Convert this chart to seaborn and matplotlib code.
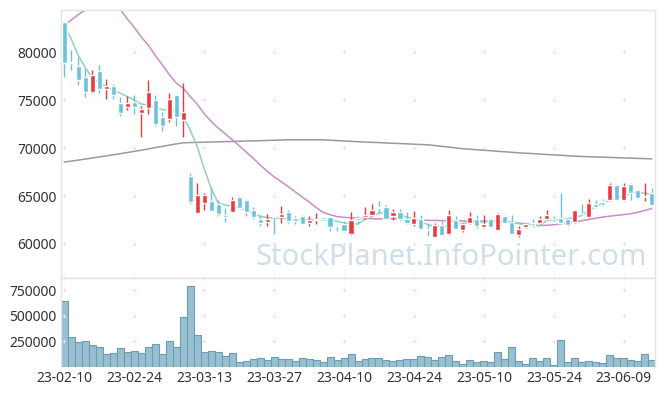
import numpy as np
import pandas as pd
import matplotlib
matplotlib.use("Agg")
import matplotlib.pyplot as plt
import seaborn as sns

# trading days (KRX holidays skipped)
HOLIDAYS = ["2023-03-01", "2023-05-01", "2023-05-05", "2023-05-29", "2023-06-06"]
dates = pd.bdate_range("2023-02-10", "2023-06-15", freq="C", holidays=HOLIDAYS)

opens = [83150, 79000, 78550, 77450, 75800, 78050, 76200, 76500, 74750, 74250,
         74850, 73700, 74150, 75050, 73250, 73000, 75500, 72900, 67100, 63250,
         64250, 64500, 64200, 63050, 63300, 64850, 64600, 63550, 62550, 62250,
         62850, 62800, 63350, 62700, 62950, 62150, 62450, 62800, 62800, 62000,
         62100, 61050, 62700, 62800, 63050, 63850, 63900, 62900, 63350, 62550,
         62100, 62550, 61500, 60700, 62000, 61000, 62450, 61500, 62150, 62600,
         61750, 62650, 61500, 62900, 62300, 60950, 61750, 62150, 62200, 62650,
         62650, 62750, 62550, 62300, 63150, 62800, 64200, 64500, 64550, 66100,
         64550, 66300, 65650, 64850, 65350]
highs = [83150, 80250, 79500, 78250, 78100, 78650, 77200, 76650, 75300, 75400,
         75500, 74400, 77100, 75500, 73800, 75750, 75500, 76750, 67400, 66400,
         65350, 65900, 64600, 63750, 64850, 64950, 64600, 63900, 63050, 63150,
         62850, 64000, 63550, 62900, 63000, 62900, 63250, 62850, 62850, 62100,
         62350, 63350, 62900, 63900, 64150, 64500, 64050, 63650, 63650, 63300,
         63400, 63000, 62200, 62200, 62400, 63550, 62900, 62200, 63350, 63050,
         63000, 62700, 63200, 63050, 63050, 61850, 62100, 62650, 62950, 63500,
         62950, 65300, 62600, 63500, 64200, 64650, 64600, 64700, 66350, 66100,
         66400, 66350, 65700, 66400, 65850]
lows = [77450, 78100, 76550, 75300, 75700, 75750, 75100, 75100, 73300, 74000,
        73550, 71200, 73550, 72250, 71750, 72750, 72250, 71150, 64200, 63250,
        63500, 63400, 62900, 62250, 63300, 63750, 62900, 62600, 61900, 61900,
        61050, 62200, 62200, 62100, 61950, 61850, 62100, 62500, 61300, 61300,
        61200, 60950, 62100, 62650, 62950, 63250, 62500, 62450, 62350, 62100,
        61900, 61500, 60800, 60700, 60900, 60950, 61550, 61200, 62100, 61700,
        61650, 61650, 61500, 62150, 61000, 60750, 61650, 61900, 62100, 62550,
        62350, 62100, 61850, 62200, 63100, 62700, 63750, 64100, 64500, 64450,
        64450, 64550, 64700, 64500, 64000]
closes = [78900, 78900, 77050, 75800, 77650, 76200, 76500, 75500, 73700, 74700,
          74250, 74100, 75850, 72550, 72250, 75150, 73250, 73750, 64350, 65150,
          65150, 63400, 63100, 62800, 64600, 63800, 63300, 62800, 62200, 62550,
          62800, 63100, 62400, 62350, 62100, 62500, 62650, 62550, 61750, 61850,
          61300, 62450, 62450, 63050, 63550, 63750, 62600, 63350, 62550, 62200,
          62700, 61600, 61450, 62000, 60950, 63050, 61600, 62100, 62800, 61850,
          62100, 61750, 63150, 62200, 61050, 61600, 62100, 62000, 62550, 63050,
          62550, 62200, 61950, 63500, 63100, 64300, 63850, 64400, 66100, 64550,
          66000, 65300, 64800, 65050, 64100]
volumes = [649000, 293500, 244600, 257600, 215200, 195700, 127200, 137000, 185900, 146700,
           159800, 140200, 195700, 225000, 127200, 257600, 195700, 489000, 795700, 313000,
           150000, 159800, 146700, 107600, 137000, 48900, 62000, 78300, 88000, 71700,
           97800, 78300, 78300, 58700, 88000, 78300, 68500, 48900, 97800, 68500,
           88000, 127200, 58700, 78300, 88000, 88000, 71700, 58700, 68500, 78300,
           78300, 107600, 97800, 68500, 97800, 117400, 58700, 29300, 68500, 48900,
           58700, 48900, 146700, 78300, 195700, 58700, 29300, 88000, 58700, 88000,
           19600, 264100, 48900, 88000, 48900, 58700, 48900, 39100, 117400, 88000,
           88000, 68500, 58700, 127200, 68500]
ma5 = [82770, 81400, 79700, 78400, 77350, 76850, 76420, 76050, 75730, 75380,
       75030, 74600, 74480, 74300, 74000, 73950, 73850, 73290, 71900, 70200,
       67900, 65800, 64300, 64050, 63920, 63750, 63570, 63200, 62880, 62750,
       62710, 62710, 62600, 62530, 62530, 62530, 62530, 62530, 62500, 62350,
       62190, 62120, 62080, 62550, 62900, 63230, 63300, 63200, 63050, 62800,
       62600, 62300, 62010, 61850, 61830, 61880, 61950, 62150, 62220, 62250,
       62300, 62360, 62360, 62360, 62300, 62110, 62000, 61910, 61910, 62450,
       62530, 62530, 62650, 62800, 62950, 63500, 63900, 64270, 64600, 64780,
       65000, 65310, 65370, 65300, 65130]
ma20 = [82770, 83350, 83900, 84400, 84700, 84900, 85000, 84900, 84500, 83500,
        82600, 81600, 80750, 79700, 78700, 77700, 76800, 76250, 75400, 74600,
        73600, 72800, 72100, 71500, 70900, 70250, 69600, 68950, 68250, 67600,
        67000, 66500, 66000, 65450, 64900, 64400, 63800, 63300, 63050, 62850,
        62780, 62720, 62680, 62650, 62630, 62620, 62620, 62620, 62600, 62530,
        62500, 62480, 62460, 62450, 62440, 62430, 62420, 62400, 62400, 62390,
        62380, 62370, 62360, 62300, 62240, 62170, 62110, 62000, 61920, 61950,
        62000, 62100, 62190, 62300, 62430, 62560, 62690, 62810, 62900, 62980,
        63060, 63150, 63300, 63500, 63700]
ma120 = [68540, 68640, 68740, 68850, 68960, 69070, 69180, 69300, 69410, 69530,
         69650, 69780, 69910, 70040, 70170, 70300, 70430, 70550, 70570, 70590,
         70610, 70630, 70650, 70670, 70690, 70710, 70730, 70750, 70770, 70790,
         70820, 70840, 70860, 70860, 70860, 70860, 70860, 70860, 70820, 70780,
         70740, 70700, 70660, 70630, 70600, 70570, 70530, 70500, 70470, 70440,
         70400, 70370, 70340, 70260, 70180, 70100, 70010, 69930, 69880, 69820,
         69770, 69720, 69660, 69610, 69560, 69500, 69460, 69420, 69370, 69330,
         69290, 69250, 69200, 69160, 69120, 69100, 69070, 69050, 69020, 69000,
         68970, 68950, 68920, 68900, 68870]

price_ticks = [60000, 65000, 70000, 75000, 80000]
vol_ticks = [250000, 500000, 750000]

df = pd.DataFrame({"day": np.arange(len(dates)), "open": opens, "high": highs,
                   "low": lows, "close": closes, "volume": volumes,
                   "ma5": ma5, "ma20": ma20, "ma120": ma120})

sns.set_style("white")
plt.rcParams["font.family"] = ["Noto Sans", "DejaVu Sans"]

UP = "#ea3a3e"
DOWN = "#6cc2da"
GRID = "#e2e2e2"
SPINE = "#e4e4e4"

fig = plt.figure(figsize=(6.65, 3.96), dpi=100)
ax = fig.add_axes([0.0917, 0.298, 0.8933, 0.6768])
axv = fig.add_axes([0.0917, 0.0732, 0.8933, 0.2248], sharex=ax)

# watermark
ax.text(0.657, 0.078, "StockPlanet.InfoPointer.com", transform=ax.transAxes,
        ha="center", va="center", fontsize=21, color="#cfdee8", zorder=0)

# moving averages
sns.lineplot(data=df, x="day", y="ma120", ax=ax, color="#9a9a9a", lw=1.1, zorder=2)
sns.lineplot(data=df, x="day", y="ma20", ax=ax, color="#c98ec5", lw=1.1, zorder=2)
sns.lineplot(data=df, x="day", y="ma5", ax=ax, color="#8fd0c4", lw=1.1, zorder=2)

# candles
up = df["close"] >= df["open"]
colors = np.where(up, UP, DOWN)
body = (df["close"] - df["open"]).abs().clip(lower=60)
bottom = df[["open", "close"]].min(axis=1)
ax.vlines(df["day"], df["low"], df["high"], colors=colors, lw=1, zorder=3)
ax.bar(df["day"], body, bottom=bottom, width=0.72, color=colors, zorder=4)

# volume
sns.barplot(data=df, x="day", y="volume", ax=axv, native_scale=True, width=1.0,
            color="#98bfd0", edgecolor="#6d9db4", linewidth=0.8, saturation=1)

xticks = list(range(0, len(dates), 10))
ax.set_xlim(-0.45, len(dates) - 0.55)
ax.set_ylim(56450, 84400)
axv.set_ylim(0, 870000)

ax.set_yticks(price_ticks)
ax.set_yticklabels([str(v) for v in price_ticks])
axv.set_yticks(vol_ticks)
axv.set_yticklabels([str(v) for v in vol_ticks])
axv.set_xticks(xticks)
axv.set_xticklabels([dates[i].strftime("%y-%m-%d") for i in xticks])
ax.tick_params(axis="x", labelbottom=False)

for a in (ax, axv):
    a.set_xlabel("")
    a.set_ylabel("")
    a.tick_params(length=0, labelsize=10, labelcolor="#333333", pad=3)
    for s in a.spines.values():
        s.set_color(SPINE)
        s.set_linewidth(1)
axv.spines["bottom"].set_visible(False)

# grid drawn as small crosses at tick intersections
gx, gy = np.meshgrid(xticks, price_ticks)
ax.scatter(gx.ravel(), gy.ravel(), marker="+", s=7, color=GRID, lw=0.7, zorder=1)
gx, gy = np.meshgrid(xticks, vol_ticks + [870000])
axv.scatter(gx.ravel(), gy.ravel(), marker="+", s=7, color=GRID, lw=0.7, zorder=1,
            clip_on=False)

fig.savefig("out.png", dpi=100)
